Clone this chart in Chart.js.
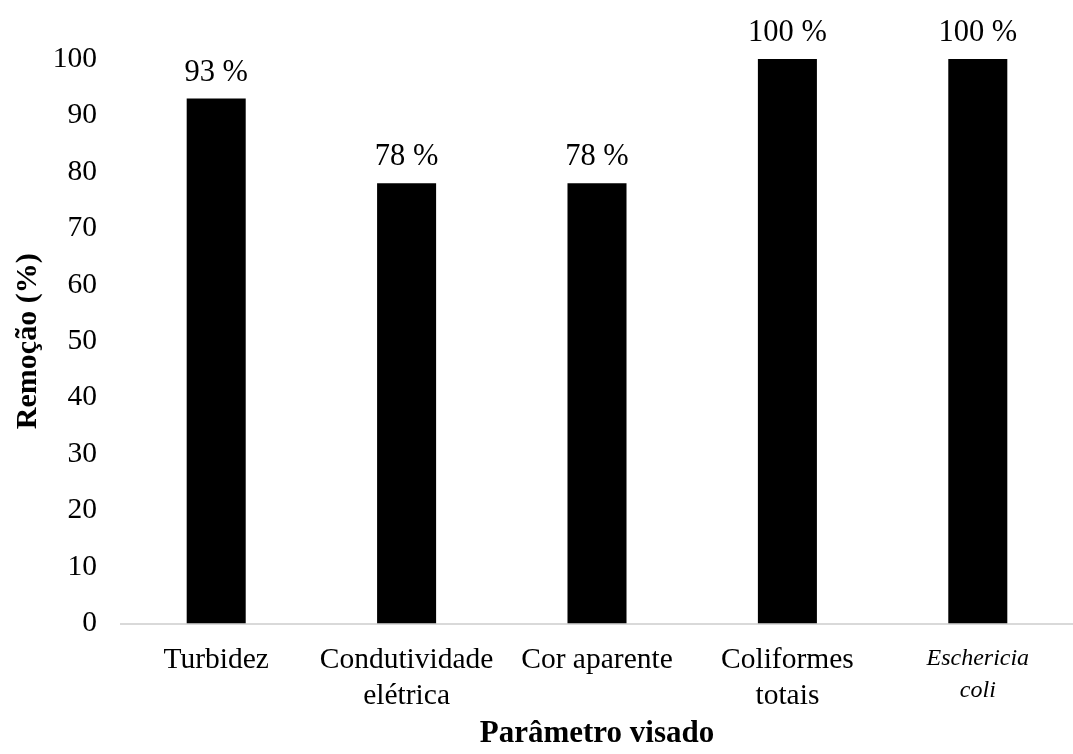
<!DOCTYPE html>
<html lang="pt">
<head>
<meta charset="utf-8">
<title>Remoção (%) por parâmetro visado</title>
<script src="https://cdn.jsdelivr.net/npm/chart.js@4.4.1/dist/chart.umd.min.js"></script>
<style>
  html, body { margin: 0; padding: 0; background: #ffffff; }
  #wrap { width: 1073px; height: 754px; }
</style>
</head>
<body>
<div id="wrap"><canvas id="chart" width="1073" height="754"></canvas></div>
<script>
// Parâmetros avaliados (rótulos com quebra de linha)
const categories = [
  'Turbidez',
  ['Condutividade', 'elétrica'],
  'Cor aparente',
  ['Coliformes', 'totais'],
  ['Eschericia', 'coli']
];
// Remoção obtida em cada parâmetro (%)
const removal = [93, 78, 78, 100, 100];
// Escala do eixo Y
const yMin = 0;
const yMax = 100;
const yStep = 10;

const SERIF = '"Liberation Serif", "Times New Roman", Times, serif';

// Rótulos de valor acima de cada barra
const valueLabels = {
  id: 'valueLabels',
  afterDatasetsDraw(chart) {
    const { ctx } = chart;
    const meta = chart.getDatasetMeta(0);
    ctx.save();
    ctx.font = '30.5px ' + SERIF;
    ctx.fillStyle = '#000000';
    ctx.textAlign = 'center';
    ctx.textBaseline = 'alphabetic';
    meta.data.forEach((bar, i) => {
      ctx.fillText(removal[i] + ' %', bar.x, bar.y - 18);
    });
    ctx.restore();
  }
};

new Chart(document.getElementById('chart'), {
  type: 'bar',
  data: {
    labels: categories,
    datasets: [{
      data: removal,
      backgroundColor: '#000000',
      borderWidth: 0,
      barPercentage: 0.31,
      categoryPercentage: 1.0
    }]
  },
  options: {
    responsive: false,
    animation: false,
    devicePixelRatio: 1,
    layout: { padding: { top: 59, right: 0, bottom: 0, left: 0 } },
    plugins: {
      legend: { display: false },
      tooltip: { enabled: false }
    },
    scales: {
      x: {
        grid: { display: false, drawTicks: false },
        border: { display: true, color: '#d9d9d9', width: 2 },
        ticks: {
          color: '#000000',
          padding: 19,
          maxRotation: 0,
          autoSkip: false,
          font: (c) => c.index === 4
            ? { family: SERIF, size: 24, style: 'italic', lineHeight: '32px' }
            : { family: SERIF, size: 29.5, lineHeight: '36px' }
        },
        title: {
          display: true,
          text: 'Parâmetro visado',
          color: '#000000',
          font: { family: SERIF, size: 31, weight: 'bold', lineHeight: 1.2 },
          padding: { top: 0, bottom: 1 }
        },
        afterFit(scale) { scale.height = 130.5; }
      },
      y: {
        min: yMin,
        max: yMax,
        grid: { display: false, drawTicks: false },
        border: { display: false },
        ticks: {
          stepSize: yStep,
          color: '#000000',
          padding: 24,
          font: { family: SERIF, size: 29.5 }
        },
        title: {
          display: true,
          text: 'Remoção (%)',
          color: '#000000',
          font: { family: SERIF, size: 30, weight: 'bold', lineHeight: 1.2 },
          padding: { top: 10, bottom: 0 }
        },
        afterFit(scale) { scale.width = 121; }
      }
    }
  },
  plugins: [valueLabels]
});
</script>
</body>
</html>
